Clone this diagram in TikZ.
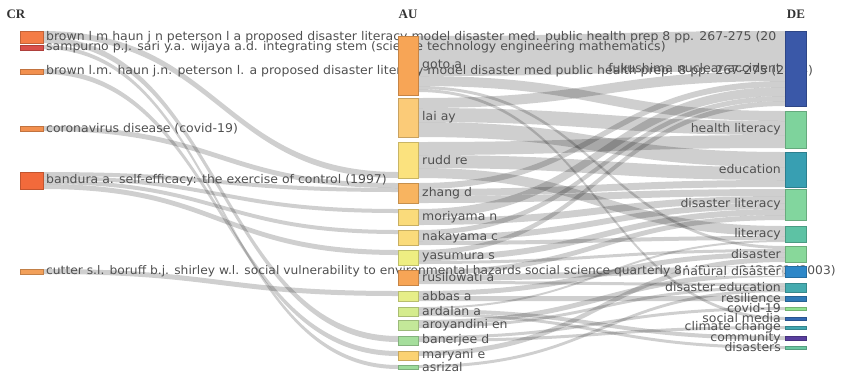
\documentclass[tikz,border=0pt]{standalone}
\usepackage{fontspec}
\usetikzlibrary{calc}
\newfontfamily\labfontfam[FakeStretch=1.04]{DejaVu Sans}
\newfontfamily\hdrfontfam{Liberation Serif}
\newcommand\labfont{\labfontfam\fontsize{12}{14}\selectfont}
\newcommand\hdrfont{\hdrfontfam\bfseries\fontsize{13}{15}\selectfont}
\definecolor{labgray}{HTML}{505050}
% CR colours
\definecolor{cA}{HTML}{F47C46}\definecolor{cB}{HTML}{D94F4A}\definecolor{cC}{HTML}{F2904F}
\definecolor{cD}{HTML}{F26A3B}\definecolor{cE}{HTML}{F2A05A}
% AU colours
\definecolor{aGoto}{HTML}{F7A556}\definecolor{aLai}{HTML}{FBCB78}\definecolor{aRudd}{HTML}{FBE27E}
\definecolor{aZhang}{HTML}{F8B460}\definecolor{aMor}{HTML}{FADB7B}\definecolor{aYas}{HTML}{EEEE82}
\definecolor{aAbb}{HTML}{E6EE88}\definecolor{aArd}{HTML}{D5EC8E}\definecolor{aAro}{HTML}{C3E899}
\definecolor{aBan}{HTML}{A5DE9C}\definecolor{aMar}{HTML}{FBD272}\definecolor{aAsr}{HTML}{9DDB9B}
% DE colours
\definecolor{dFuk}{HTML}{3A58A8}\definecolor{dHl}{HTML}{7ED39C}\definecolor{dEdu}{HTML}{389FB2}
\definecolor{dDl}{HTML}{82D69E}\definecolor{dLit}{HTML}{5DC2A4}\definecolor{dDis}{HTML}{88D89A}
\definecolor{dNd}{HTML}{2D87C8}\definecolor{dDedu}{HTML}{45ABAF}\definecolor{dRes}{HTML}{2F7AB7}
\definecolor{dCov}{HTML}{8EE08F}\definecolor{dSm}{HTML}{3368B2}\definecolor{dCc}{HTML}{41A6B0}
\definecolor{dCom}{HTML}{593E9E}\definecolor{dDiss}{HTML}{6AC6A0}
\pgfdeclarelayer{bands}\pgfdeclarelayer{labels}
\pgfsetlayers{bands,labels,main}
\tikzset{
  barbox/.style={rectangle, inner sep=0pt, outer sep=0pt, line width=0.5pt, anchor=north west},
  bandfill/.style={fill=black, fill opacity=0.19},
  lab/.style={font=\labfont, text=labgray, inner sep=0pt},
  hdr/.style={font=\hdrfont, text=black!80, inner sep=0pt},
}
% name, x, ytop, width, height, colour
\newcommand\mybar[6]{\node[barbox, fill=#6, draw=#6!80!black, minimum width=#4pt, minimum height=#5pt] (#1) at (#2,#3) {};}
% src, src offset, width, tgt, tgt offset
\newcommand\band[5]{%
  \path ($(#1.north east)+(0,#2)$) coordinate (s0) ($(#1.north east)+(0,#2+#3)$) coordinate (s1)
        ($(#4.north west)+(0,#5)$) coordinate (t0) ($(#4.north west)+(0,#5+#3)$) coordinate (t1)
        ($(s0)!.5!(t0)$) coordinate (m);
  \fill[bandfill] (s0) .. controls (m |- s0) and (m |- t0) .. (t0) -- (t1)
        .. controls (m |- t1) and (m |- s1) .. (s1) -- cycle;}
\begin{document}
\begin{tikzpicture}[x=1pt,y=-1pt]
\useasboundingbox (0,0) rectangle (845,376);
% headers
\node[hdr] (hcr) at (16,14) {CR};
\node[hdr] (hau) at (408,14) {AU};
\node[hdr] (hde) at (796,14) {DE};
% CR bars
\mybar{cr1}{20}{31}{23}{12}{cA}
\mybar{cr2}{20}{45}{23}{5}{cB}
\mybar{cr3}{20}{69}{23}{5}{cC}
\mybar{cr4}{20}{126}{23}{5}{cC}
\mybar{cr5}{20}{172}{23}{17}{cD}
\mybar{cr6}{20}{269}{23}{5}{cE}
% AU bars
\mybar{goto}{398}{36}{20}{59}{aGoto}
\mybar{lai}{398}{98}{20}{39}{aLai}
\mybar{rudd}{398}{142}{20}{36}{aRudd}
\mybar{zhang}{398}{183}{20}{20}{aZhang}
\mybar{mor}{398}{209}{20}{16}{aMor}
\mybar{nak}{398}{230}{20}{15}{aMor}
\mybar{yas}{398}{250}{20}{15}{aYas}
\mybar{rus}{398}{270}{20}{15}{aGoto}
\mybar{abb}{398}{291}{20}{10}{aAbb}
\mybar{ard}{398}{307}{20}{9}{aArd}
\mybar{aro}{398}{320}{20}{10}{aAro}
\mybar{ban}{398}{336}{20}{9}{aBan}
\mybar{mar}{398}{351}{20}{9}{aMar}
\mybar{asr}{398}{365}{20}{4}{aAsr}
% DE bars
\mybar{fuk}{785}{31}{21}{75}{dFuk}
\mybar{hl}{785}{111}{21}{37}{dHl}
\mybar{edu}{785}{152}{21}{35}{dEdu}
\mybar{dl}{785}{189}{21}{31}{dDl}
\mybar{lit}{785}{226}{21}{16}{dLit}
\mybar{dis}{785}{246}{21}{16}{dDis}
\mybar{nd}{785}{266}{21}{11}{dNd}
\mybar{dedu}{785}{283}{21}{9}{dDedu}
\mybar{res}{785}{296}{21}{5}{dRes}
\mybar{cov}{785}{307}{21}{3}{dCov}
\mybar{sm}{785}{317}{21}{3}{dSm}
\mybar{cc}{785}{326}{21}{3}{dCc}
\mybar{com}{785}{336}{21}{4}{dCom}
\mybar{diss}{785}{346}{21}{3}{dDiss}
\begin{pgfonlayer}{bands}
% CR -> AU
\band{cr1}{0}{6}{rudd}{30}
\band{cr1}{6}{6}{ban}{0}
\band{cr2}{0}{4}{asr}{0}
\band{cr3}{0}{5}{mar}{0}
\band{cr4}{0}{5}{zhang}{0}
\band{cr5}{0}{4}{zhang}{5}
\band{cr5}{4}{4}{mor}{0}
\band{cr5}{8}{4}{nak}{0}
\band{cr5}{12}{5}{yas}{0}
\band{cr6}{0}{5}{abb}{0}
% AU -> DE
\band{goto}{0}{40}{fuk}{0}
\band{goto}{40}{10}{hl}{0}
\band{goto}{50}{3}{dis}{0}
\band{goto}{53}{3}{sm}{0}
\band{lai}{0}{10}{fuk}{40}
\band{lai}{10}{14}{hl}{10}
\band{lai}{24}{15}{edu}{0}
\band{rudd}{0}{13}{hl}{24}
\band{rudd}{13}{13}{edu}{15}
\band{rudd}{26}{10}{lit}{0}
\band{zhang}{0}{6}{fuk}{50}
\band{zhang}{6}{7}{edu}{28}
\band{zhang}{13}{7}{dl}{0}
\band{mor}{0}{9}{fuk}{56}
\band{mor}{9}{7}{dl}{7}
\band{nak}{0}{5}{fuk}{65}
\band{nak}{5}{6}{dl}{14}
\band{nak}{11}{4}{lit}{10}
\band{yas}{0}{5}{fuk}{70}
\band{yas}{5}{6}{dl}{20}
\band{yas}{11}{3}{dis}{3}
\band{rus}{0}{5}{dl}{26}
\band{rus}{5}{6}{nd}{0}
\band{rus}{11}{3}{dedu}{0}
\band{abb}{0}{5}{dis}{6}
\band{abb}{5}{5}{res}{0}
\band{ard}{0}{2}{lit}{14}
\band{ard}{2}{4}{com}{0}
\band{ard}{6}{3}{diss}{0}
\band{aro}{0}{5}{nd}{6}
\band{aro}{5}{3}{dedu}{3}
\band{ban}{0}{3}{cov}{0}
\band{ban}{3}{3}{cc}{0}
\band{mar}{0}{5}{dis}{11}
\band{asr}{0}{3}{dedu}{6}
\end{pgfonlayer}
\begin{pgfonlayer}{labels}
% CR labels
\node[lab, anchor=west] (tcr1) at ([xshift=3pt]cr1.east) {brown l m haun j n peterson l a proposed disaster literacy model disaster med. public health prep 8 pp. 267-275 (20};
\node[lab, anchor=west] (tcr2) at ([xshift=3pt]cr2.east) {sampurno p.j. sari y.a. wijaya a.d. integrating stem (science technology engineering mathematics)};
\node[lab, anchor=west] (tcr3) at ([xshift=3pt]cr3.east) {brown l.m. haun j.n. peterson l. a proposed disaster literacy model disaster med public health prep. 8 pp. 267-275 (2014)};
\node[lab, anchor=west] (tcr4) at ([xshift=3pt]cr4.east) {coronavirus disease (covid-19)};
\node[lab, anchor=west] (tcr5) at ([xshift=3pt]cr5.east) {bandura a. self-efficacy: the exercise of control (1997)};
\node[lab, anchor=west, font=\labfontfam\fontsize{11.8}{14}\selectfont] (tcr6) at ([xshift=3pt]cr6.east) {cutter s.l. boruff b.j. shirley w.l. social vulnerability to environmental hazards social science quarterly 84 (2) pp. 242-261 (2003)};
% AU labels
\node[lab, anchor=west] (tgoto) at ([xshift=4pt]goto.east) {goto a};
\node[lab, anchor=west] (tlai) at ([xshift=4pt]lai.east) {lai ay};
\node[lab, anchor=west] (trudd) at ([xshift=4pt]rudd.east) {rudd re};
\node[lab, anchor=west] (tzhang) at ([xshift=4pt]zhang.east) {zhang d};
\node[lab, anchor=west] (tmor) at ([xshift=4pt]mor.east) {moriyama n};
\node[lab, anchor=west] (tnak) at ([xshift=4pt]nak.east) {nakayama c};
\node[lab, anchor=west] (tyas) at ([xshift=4pt]yas.east) {yasumura s};
\node[lab, anchor=west] (trus) at ([xshift=4pt]rus.east) {rusilowati a};
\node[lab, anchor=west] (tabb) at ([xshift=4pt]abb.east) {abbas a};
\node[lab, anchor=west] (tard) at ([xshift=4pt]ard.east) {ardalan a};
\node[lab, anchor=west] (taro) at ([xshift=4pt]aro.east) {aroyandini en};
\node[lab, anchor=west] (tban) at ([xshift=4pt]ban.east) {banerjee d};
\node[lab, anchor=west] (tmar) at ([xshift=4pt]mar.east) {maryani e};
\node[lab, anchor=west] (tasr) at ([xshift=4pt]asr.east) {asrizal};
% DE labels
\node[lab, anchor=east] (tfuk) at ([xshift=-4pt]fuk.west) {fukushima nuclear accident};
\node[lab, anchor=east] (thl) at ([xshift=-4pt]hl.west) {health literacy};
\node[lab, anchor=east] (tedu) at ([xshift=-4pt]edu.west) {education};
\node[lab, anchor=east] (tdl) at ([xshift=-4pt]dl.west) {disaster literacy};
\node[lab, anchor=east] (tlit) at ([xshift=-4pt]lit.west) {literacy};
\node[lab, anchor=east] (tdis) at ([xshift=-4pt]dis.west) {disaster};
\node[lab, anchor=east, fill=white, fill opacity=0.9, text opacity=1, inner xsep=1pt] (tnd) at ([xshift=-3pt]nd.west) {natural disaster};
\node[lab, anchor=east] (tdedu) at ([xshift=-4pt]dedu.west) {disaster education};
\node[lab, anchor=east] (tres) at ([xshift=-4pt]res.west) {resilience};
\node[lab, anchor=east] (tcov) at ([xshift=-4pt]cov.west) {covid-19};
\node[lab, anchor=east] (tsm) at ([xshift=-4pt]sm.west) {social media};
\node[lab, anchor=east] (tcc) at ([xshift=-4pt]cc.west) {climate change};
\node[lab, anchor=east] (tcom) at ([xshift=-4pt]com.west) {community};
\node[lab, anchor=east] (tdiss) at ([xshift=-4pt]diss.west) {disasters};
\end{pgfonlayer}
\end{tikzpicture}
\end{document}
